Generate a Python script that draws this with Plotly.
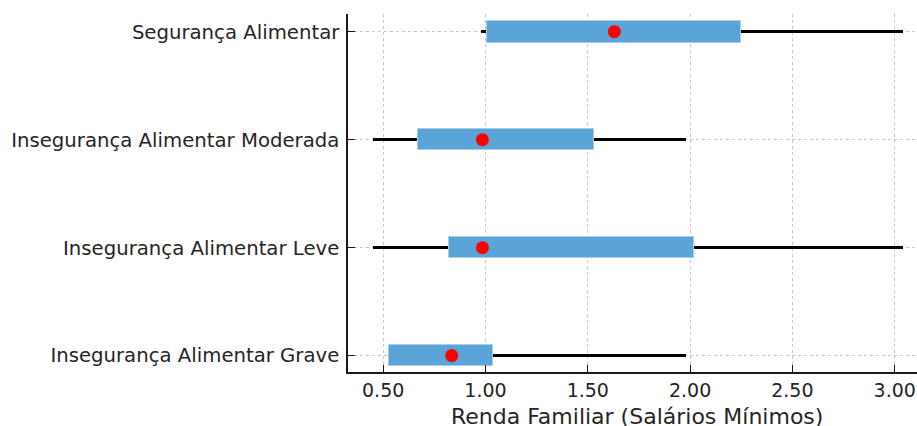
import plotly.graph_objects as go

categories = ["Insegurança Alimentar Grave", "Insegurança Alimentar Leve",
              "Insegurança Alimentar Moderada", "Segurança Alimentar"]
whisker_min = [0.525, 0.45, 0.45, 0.98]
whisker_max = [1.98, 3.04, 1.98, 3.04]
q1 = [0.53, 0.82, 0.67, 1.005]
q3 = [1.035, 2.02, 1.53, 2.25]
median = [0.835, 0.985, 0.985, 1.63]
x_ticks = [0.5, 1.0, 1.5, 2.0, 2.5, 3.0]
x_tick_labels = ["0.50", "1.00", "1.50", "2.00", "2.50", "3.00"]
x_title = "Renda Familiar (Salários Mínimos)"

fig = go.Figure()
fig.add_trace(go.Bar(
    y=categories, x=[b - a for a, b in zip(whisker_min, whisker_max)], base=whisker_min,
    orientation="h", width=0.03, marker=dict(color="black", line=dict(width=0)),
    showlegend=False, hoverinfo="skip"))
fig.add_trace(go.Bar(
    y=categories, x=[b - a for a, b in zip(q1, q3)], base=q1,
    orientation="h", width=0.2,
    marker=dict(color="#5ba4d7", line=dict(color="#a9cdea", width=1)),
    showlegend=False))
fig.add_trace(go.Scatter(
    y=categories, x=median, mode="markers",
    marker=dict(color="red", size=13, line=dict(width=0)), showlegend=False))

font_family = "DejaVu Sans"
text_color = "#262626"
fig.update_layout(
    width=917, height=426,
    margin=dict(l=348, r=0, t=14, b=54),
    plot_bgcolor="white", paper_bgcolor="white",
    barmode="overlay", bargap=0,
    font=dict(family=font_family, color=text_color),
    xaxis=dict(
        range=[0.328, 3.109], tickvals=x_ticks, ticktext=x_tick_labels,
        tickfont=dict(size=19, color=text_color),
        automargin=False,
        showgrid=True, gridcolor="#c8c8c8", griddash="dot", gridwidth=1,
        showline=True, linecolor="#1a1a1a", linewidth=1.5,
        ticks="inside", ticklen=7, tickwidth=1.3, tickcolor="#1a1a1a",
        zeroline=False, mirror=False),
    yaxis=dict(
        type="category", categoryorder="array", categoryarray=categories,
        range=[-0.152, 3.164], automargin=False,
        tickfont=dict(size=19.7, color=text_color), ticklabelstandoff=3,
        showgrid=True, gridcolor="#c8c8c8", griddash="dot", gridwidth=1,
        showline=True, linecolor="#1a1a1a", linewidth=1.5,
        ticks="inside", ticklen=7, tickwidth=1.3, tickcolor="#1a1a1a",
        zeroline=False),
    annotations=[dict(
        text=x_title, xref="paper", yref="paper", x=0.508, y=0,
        xanchor="center", yanchor="top", yshift=-30, showarrow=False,
        font=dict(size=22, color=text_color, family=font_family))],
)
fig.write_html("out.html", config={"displayModeBar": False},
               post_script="document.body.style.margin='0';document.body.style.overflow='hidden';")
